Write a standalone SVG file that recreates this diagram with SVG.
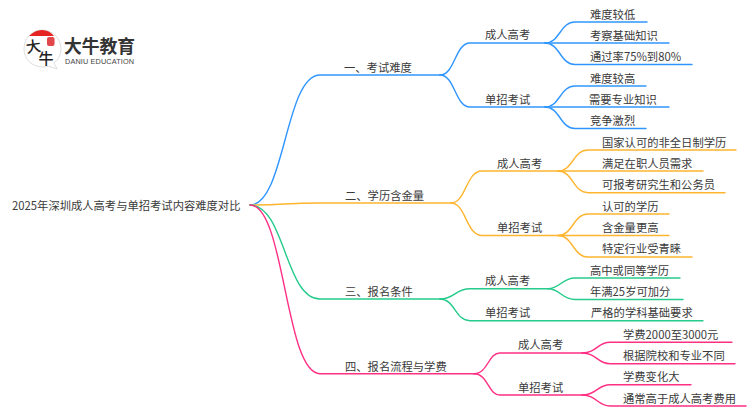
<svg xmlns="http://www.w3.org/2000/svg" width="750" height="410" viewBox="0 0 750 410">
<style>
text{font-family:"Noto Sans CJK SC","Noto Sans",sans-serif;font-size:11.3px;fill:#3a3a3a}
.c path{fill:none;stroke-width:1.4;stroke-linecap:round}
.b path{stroke:#3096ff}.o path{stroke:#ffb52e}.g path{stroke:#25cb8b}.p path{stroke:#ff2f84}
</style>
<rect width="750" height="410" fill="#fff"/>
<g id="logo">
<path d="M42 30C32 30 24 38 24 49C24 60 33 67 43 67C46 67 48 66 50 66.500L57 69L54 63C58 60 61 55 61 49C61 38 52 30 42 30Z" fill="#fff" stroke="#cfcfcf" stroke-width="0.7"/>
<path d="M29 36C33 32 37 30 42 30C47 30 51 32 54 36Z" fill="#e52322"/>
<rect x="47" y="37" width="7.500" height="9" rx="2" fill="#e0464a"/>
<text x="26" y="52" style="font-size:15px;font-weight:500;fill:#222" transform="rotate(-8 33 47)">大</text>
<text x="38.500" y="64" style="font-size:15px;font-weight:500;fill:#222">牛</text>
<text x="64" y="53.300" style="font-size:17.800px;font-weight:700;fill:#333">大牛教育</text>
<text x="65" y="63.700" style="font-size:7.300px;font-family:'Liberation Sans',sans-serif;fill:#444" textLength="69">DANIU EDUCATION</text>
</g>
<g id="connectors" class="c">
<g class="b">
<path d="M250 205C285 205 285 75 320 75H440"/>
<path d="M440 75C455 75 455 43 470 43H545"/>
<path d="M440 75C455 75 455 107 470 107H545"/>
<path d="M545 43C560 43 560 22 575 22H647"/>
<path d="M545 43H669"/>
<path d="M545 43C560 43 560 64.500 575 64.500H692"/>
<path d="M545 107C560 107 560 86 575 86H646"/>
<path d="M545 107H669"/>
<path d="M545 107C560 107 560 128.500 575 128.500H646"/>
</g>
<g class="o">
<path d="M250 205C285 205 285 203 320 203H451"/>
<path d="M451 203C466 203 466 171 482 171H558"/>
<path d="M451 203C466 203 466 235.500 482 235.500H558"/>
<path d="M558 171C573 171 573 150 588 150H736"/>
<path d="M558 171H703"/>
<path d="M558 171C573 171 573 192.700 588 192.700H725"/>
<path d="M558 235.500C573 235.500 573 214 588 214H669"/>
<path d="M558 235.500H669"/>
<path d="M558 235.500C573 235.500 573 257 588 257H692"/>
</g>
<g class="g">
<path d="M250 205C285 205 285 299 320 299H440"/>
<path d="M440 299C455 299 455 288.700 470 288.700H548"/>
<path d="M440 299C455 299 455 320.700 470 320.700H703"/>
<path d="M548 288.700C560 288.700 562 278 575 278H680"/>
<path d="M548 288.700C560 288.700 562 299.500 575 299.500H683"/>
</g>
<g class="p">
<path d="M250 205C285 205 285 373.700 320 373.700H474"/>
<path d="M474 373.700C488 373.700 488 353 500 353H582"/>
<path d="M474 373.700C488 373.700 488 395 500 395H582"/>
<path d="M582 353C597 353 597 342.300 610 342.300H732"/>
<path d="M582 353C597 353 597 363.700 610 363.700H735"/>
<path d="M582 395C597 395 597 384.700 610 384.700H691"/>
<path d="M582 395C597 395 597 406 610 406H746"/>
</g>
</g>
<g id="root"><text x="12" y="210">2025年深圳成人高考与单招考试内容难度对比</text></g>
<g id="n1"><text x="344" y="71.500">一、考试难度</text></g>
<g id="n1a"><text x="485" y="39">成人高考</text></g>
<g id="n1a1"><text x="590" y="18.500">难度较低</text></g>
<g id="n1a2"><text x="590" y="39.500">考察基础知识</text></g>
<g id="n1a3"><text x="590" y="60.500">通过率75%到80%</text></g>
<g id="n1b"><text x="485" y="103.500">单招考试</text></g>
<g id="n1b1"><text x="590" y="82.500">难度较高</text></g>
<g id="n1b2"><text x="589" y="103.500">需要专业知识</text></g>
<g id="n1b3"><text x="590" y="124.500">竞争激烈</text></g>
<g id="n2"><text x="345" y="199.500">二、学历含金量</text></g>
<g id="n2a"><text x="497" y="167.500">成人高考</text></g>
<g id="n2a1"><text x="602" y="146.500">国家认可的非全日制学历</text></g>
<g id="n2a2"><text x="602" y="167.500">满足在职人员需求</text></g>
<g id="n2a3"><text x="602" y="188.500">可报考研究生和公务员</text></g>
<g id="n2b"><text x="497" y="232">单招考试</text></g>
<g id="n2b1"><text x="602" y="210.500">认可的学历</text></g>
<g id="n2b2"><text x="602" y="232">含金量更高</text></g>
<g id="n2b3"><text x="602" y="253">特定行业受青睐</text></g>
<g id="n3"><text x="345" y="295.500">三、报名条件</text></g>
<g id="n3a"><text x="485" y="285">成人高考</text></g>
<g id="n3a1"><text x="590" y="274.500">高中或同等学历</text></g>
<g id="n3a2"><text x="590" y="295.500">年满25岁可加分</text></g>
<g id="n3b"><text x="485" y="317">单招考试</text></g>
<g id="n3b1"><text x="591" y="317">严格的学科基础要求</text></g>
<g id="n4"><text x="345" y="370.500">四、报名流程与学费</text></g>
<g id="n4a"><text x="518" y="349">成人高考</text></g>
<g id="n4a1"><text x="623" y="338.500">学费2000至3000元</text></g>
<g id="n4a2"><text x="623" y="360">根据院校和专业不同</text></g>
<g id="n4b"><text x="518" y="391.500">单招考试</text></g>
<g id="n4b1"><text x="623" y="381">学费变化大</text></g>
<g id="n4b2"><text x="623" y="402.500">通常高于成人高考费用</text></g>
</svg>
